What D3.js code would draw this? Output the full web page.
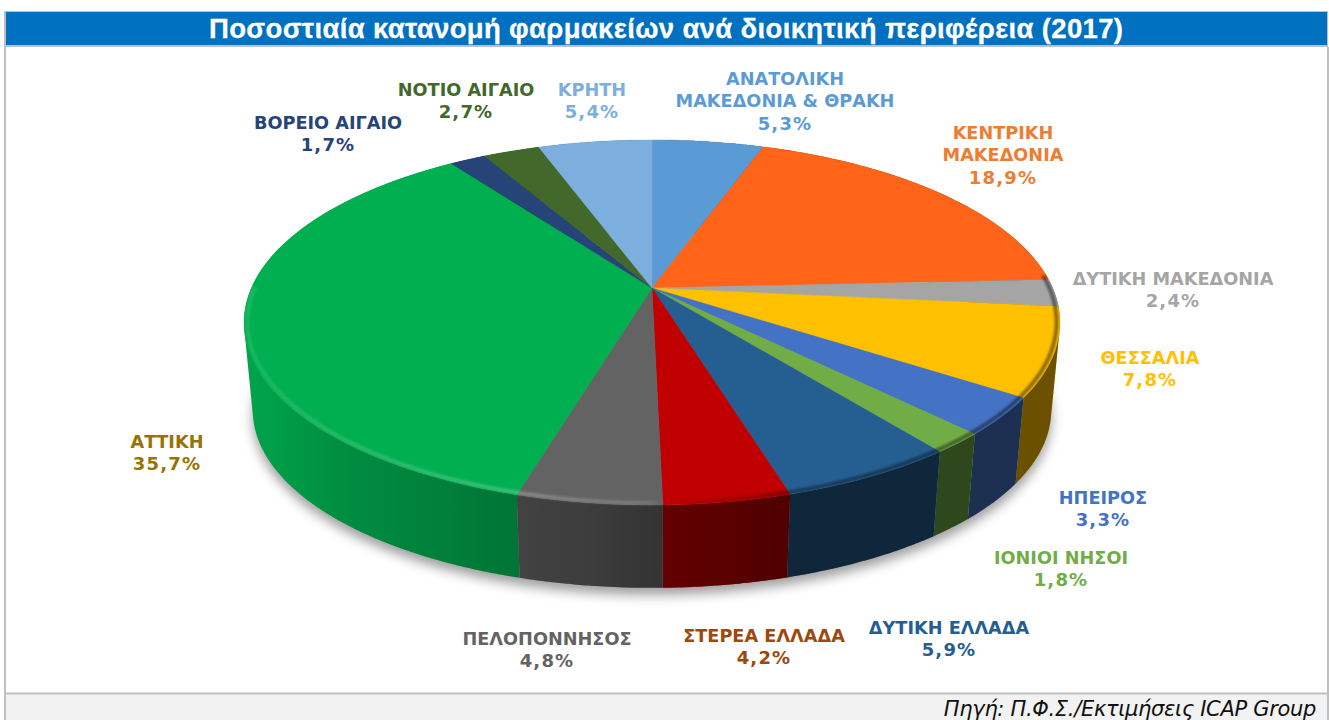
<!DOCTYPE html>
<html lang="el"><head><meta charset="utf-8">
<script src="https://cdn.jsdelivr.net/npm/d3@7"></script>
<style>html,body{margin:0;padding:0;background:#fff;overflow:hidden}svg{display:block}</style>
</head><body><svg id="c" width="1329" height="720"></svg>
<script>
const titleText = "Ποσοστιαία κατανομή φαρμακείων ανά διοικητική περιφέρεια (2017)";
const sourceText = "Πηγή: Π.Φ.Σ./Εκτιμήσεις ICAP Group";
const regions = ["ΑΝΑΤΟΛΙΚΗ ΜΑΚΕΔΟΝΙΑ & ΘΡΑΚΗ","ΚΕΝΤΡΙΚΗ ΜΑΚΕΔΟΝΙΑ","ΔΥΤΙΚΗ ΜΑΚΕΔΟΝΙΑ","ΘΕΣΣΑΛΙΑ","ΗΠΕΙΡΟΣ","ΙΟΝΙΟΙ ΝΗΣΟΙ","ΔΥΤΙΚΗ ΕΛΛΑΔΑ","ΣΤΕΡΕΑ ΕΛΛΑΔΑ","ΠΕΛΟΠΟΝΝΗΣΟΣ","ΑΤΤΙΚΗ","ΒΟΡΕΙΟ ΑΙΓΑΙΟ","ΝΟΤΙΟ ΑΙΓΑΙΟ","ΚΡΗΤΗ"];
const shares = [5.3,18.9,2.4,7.8,3.3,1.8,5.9,4.2,4.8,35.7,1.7,2.7,5.4];

const sliceColors = ["#5B9BD5","#FF6418","#A5A5A5","#FFC000","#4472C4","#70AD47","#255E91","#C00000","#636363","#00AF50","#264478","#43682B","#7CAFDD"];
const labelColors = ["#5B9BD5","#ED7D31","#A5A5A5","#FFC000","#4472C4","#70AD47","#255E91","#9E480E","#636363","#997300","#264478","#43682B","#7CAFDD"];
// label layout: centre x, first baseline, wrapped lines
const labelLayout = [
 {x:785,y:85,lines:["ΑΝΑΤΟΛΙΚΗ","ΜΑΚΕΔΟΝΙΑ & ΘΡΑΚΗ"]},
 {x:1003,y:139,lines:["ΚΕΝΤΡΙΚΗ","ΜΑΚΕΔΟΝΙΑ"]},
 {x:1173,y:285,lines:["ΔΥΤΙΚΗ ΜΑΚΕΔΟΝΙΑ"]},
 {x:1150,y:364,lines:["ΘΕΣΣΑΛΙΑ"]},
 {x:1103,y:504,lines:["ΗΠΕΙΡΟΣ"]},
 {x:1061,y:564,lines:["ΙΟΝΙΟΙ ΝΗΣΟΙ"]},
 {x:949,y:634,lines:["ΔΥΤΙΚΗ ΕΛΛΑΔΑ"]},
 {x:764,y:642,lines:["ΣΤΕΡΕΑ ΕΛΛΑΔΑ"]},
 {x:547,y:645,lines:["ΠΕΛΟΠΟΝΝΗΣΟΣ"]},
 {x:167,y:448,lines:["ΑΤΤΙΚΗ"]},
 {x:328,y:129,lines:["ΒΟΡΕΙΟ ΑΙΓΑΙΟ"]},
 {x:466,y:96,lines:["ΝΟΤΙΟ ΑΙΓΑΙΟ"]},
 {x:592,y:96,lines:["ΚΡΗΤΗ"]}
];

const W = 1329, H = 720;
const svg = d3.select("#c");
const defs = svg.append("defs");

// perspective projection of a disc: unit circle -> screen
const K = -0.189;
const project = (disc, r, ang) => {
  const u = r*Math.sin(ang), v = -r*Math.cos(ang), d = 1 + K*v;
  return [disc.cx + disc.a*u/d, disc.cy + disc.b*v/d];
};
const topDisc = {cx:652, cy:288, a:400.6, b:176};
const botDisc = {cx:652, cy:377, a:392, b:171};

const pie = d3.pie().sort(null).value(d=>d);
const arcs = pie(shares);
const color = d3.scaleOrdinal().domain(regions).range(sliceColors);
const line = d3.line();
const sample = (a0,a1,step=0.01) => d3.range(a0,a1,step).concat([a1]);

defs.append("filter").attr("id","shadow").attr("x","-10%").attr("y","-10%").attr("width","120%").attr("height","130%")
  .append("feGaussianBlur").attr("stdDeviation",6);
defs.append("filter").attr("id","soft").attr("filterUnits","userSpaceOnUse").attr("x",0).attr("y",0).attr("width",W).attr("height",H)
  .append("feGaussianBlur").attr("stdDeviation",1.3);

// wall darkening across x
const wallGrad = defs.append("linearGradient").attr("id","wallShade").attr("gradientUnits","userSpaceOnUse")
  .attr("x1",244).attr("x2",1060).attr("y1",0).attr("y2",0);
[[244,.06],[350,.2],[500,.32],[580,.38],[660,.48],[800,.6],[1060,.58]].forEach(([x,o])=>
  wallGrad.append("stop").attr("offset",(x-244)/816).attr("stop-color","#000").attr("stop-opacity",o));

// rim: bright on the left, dark on the right
const rimGrad = defs.append("linearGradient").attr("id","rim").attr("gradientUnits","userSpaceOnUse")
  .attr("x1",244).attr("x2",1060).attr("y1",0).attr("y2",0);
[[244,"#fff",.1],[520,"#fff",.22],[650,"#fff",.12],[672,"#000",0],[800,"#000",.35],[1060,"#000",.45]].forEach(([x,c,o])=>
  rimGrad.append("stop").attr("offset",(x-244)/816).attr("stop-color",c).attr("stop-opacity",o));

// frame
svg.append("rect").attr("x",0).attr("y",0).attr("width",W).attr("height",H).attr("fill","#fff");
svg.append("rect").attr("x",5).attr("y",693).attr("width",W-6).attr("height",27).attr("fill","#f2f2f2");
svg.append("rect").attr("x",4).attr("y",11).attr("width",W-5).attr("height",36).attr("fill","#bfbfbf");
svg.append("rect").attr("x",6).attr("y",12).attr("width",W-8).attr("height",33).attr("fill","#0070C0");
svg.append("rect").attr("x",4).attr("y",47).attr("width",2).attr("height",H-47).attr("fill","#bfbfbf");
svg.append("rect").attr("x",W-2).attr("y",47).attr("width",2).attr("height",H-47).attr("fill","#bfbfbf");
svg.append("rect").attr("x",5).attr("y",692.5).attr("width",W-6).attr("height",2).attr("fill","#bfbfbf");

svg.append("text").attr("x",666).attr("y",38).attr("text-anchor","middle")
  .attr("font-family","'Liberation Sans',Arial,sans-serif").attr("font-weight",700).attr("font-size",27.5)
  .attr("textLength",914).attr("lengthAdjust","spacing").attr("fill","#fff").attr("stroke","#fff").attr("stroke-width",.3).text(titleText);
svg.append("text").attr("x",1316).attr("y",716).attr("text-anchor","end")
  .attr("font-family","'DejaVu Sans',sans-serif").attr("font-style","italic").attr("font-size",21)
  .attr("letter-spacing",-0.32).attr("fill","#111").text(sourceText);

// shadow under pie
svg.append("path").attr("filter","url(#shadow)").attr("fill","#000").attr("fill-opacity",.38)
  .attr("transform","translate(0,7)")
  .attr("d",line(sample(0,2*Math.PI).map(a=>project(botDisc,1,a)))+"Z");

// walls, back ones first: each wall is one path of overlapping same-winding quads,
// so the silhouette stays filled and no seams appear
const front = a => Math.abs(((a.startAngle+a.endAngle)/2)-Math.PI);
const wallPath = a => {
  const s = sample(a.startAngle,a.endAngle,0.02);
  return d3.pairs(s).map(([t0,t1])=>{
    const t2 = Math.min(t1+0.01,a.endAngle);
    const hull = d3.polygonHull([project(topDisc,1,t0),project(topDisc,1,t2),project(botDisc,1,t2),project(botDisc,1,t0)]);
    return line(hull)+"Z";
  }).join("");
};
const wallData = arcs.slice().sort((p,q)=>front(q)-front(p));
const wallGroups = svg.append("g").selectAll("g").data(wallData).join("g");
wallGroups.append("path").attr("fill",d=>color(regions[d.index])).attr("d",wallPath);
wallGroups.append("path").attr("fill","url(#wallShade)").attr("d",wallPath);

// top face
svg.append("g").selectAll("path").data(arcs).join("path")
  .attr("fill",d=>color(regions[d.index])).attr("stroke",d=>color(regions[d.index])).attr("stroke-width",.4)
  .attr("d",d=>{
    const pts=[project(topDisc,0,0)].concat(sample(d.startAngle,d.endAngle).map(t=>project(topDisc,1,t)));
    return line(pts)+"Z";
  });

// bevel highlight along the front edge
svg.append("path").attr("fill","none").attr("stroke","url(#rim)").attr("stroke-width",4)
  .attr("filter","url(#soft)")
  .attr("d",line(sample(1.5,4.72).map(t=>project(topDisc,.992,t))));

// labels
const fmt = v => d3.format(".1f")(v).replace(".",",")+"%";
const lab = svg.append("g").attr("font-family","'DejaVu Sans',sans-serif").attr("font-weight",700)
  .attr("font-size",17.7).attr("text-anchor","middle");
lab.selectAll("text").data(regions).join("text").each(function(name,i){
  const l = labelLayout[i], t = d3.select(this).attr("fill",labelColors[i]);
  l.lines.forEach((s,j)=>t.append("tspan").attr("x",l.x).attr("y",l.y+j*22.3).text(s));
  t.append("tspan").attr("x",l.x).attr("y",l.y+l.lines.length*22.3)
    .attr("font-size",18).attr("letter-spacing",1.2).text(fmt(shares[i]));
});
</script></body></html>
